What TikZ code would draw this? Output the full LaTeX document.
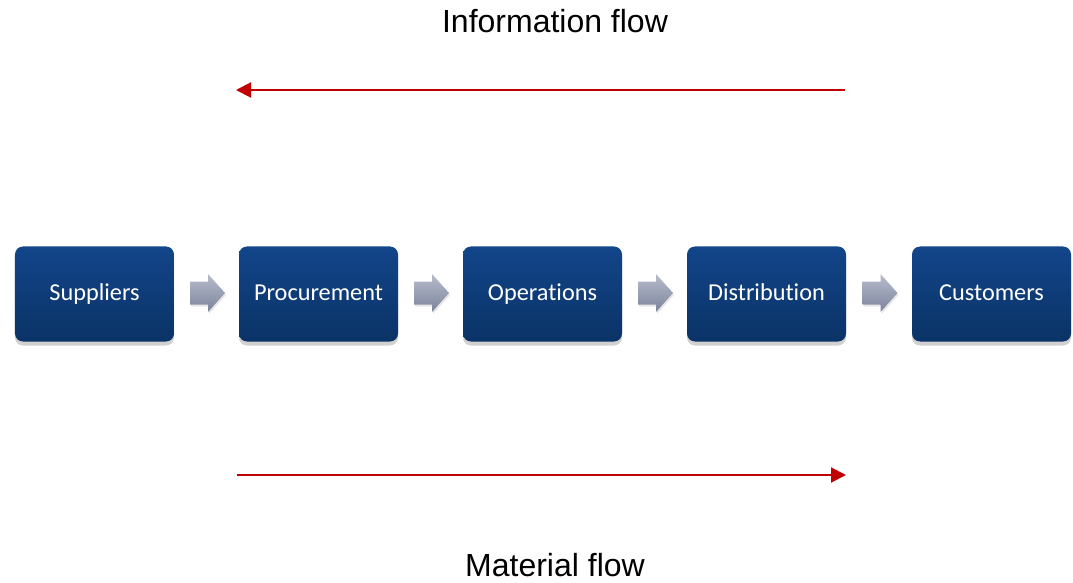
\documentclass[tikz,border=0pt]{standalone}
\usepackage{fontspec}
\setmainfont{Liberation Sans}
\newfontfamily\boxfont[Ligatures=NoCommon]{Carlito}
\usetikzlibrary{arrows.meta,shadows,calc}
\definecolor{boxtop}{HTML}{13458A}
\definecolor{boxbot}{HTML}{0A3366}
\definecolor{chevtop}{HTML}{B8BDCC}
\definecolor{chevbot}{HTML}{7C849C}
\definecolor{flowred}{HTML}{C00000}
\tikzset{
  stage/.style={rectangle, rounded corners=8bp, minimum width=159bp, minimum height=95bp,
    top color=boxtop, bottom color=boxbot, draw=none, text=white,
    text height=18bp, text depth=4bp,
    font=\boxfont\fontsize{24.3bp}{28bp}\selectfont,
    drop shadow={shadow xshift=0bp, shadow yshift=-4bp, opacity=0.3, fill=black!60}},
  chevfill/.style={top color=chevtop, bottom color=chevbot, draw=none,
    drop shadow={shadow xshift=1bp, shadow yshift=-2bp, opacity=0.2, fill=black!50}},
  chevron/.pic={
    \path[chevfill] (-17.5,-11.5) -- (0.5,-11.5) -- (0.5,-19) -- (17.5,0)
      -- (0.5,19) -- (0.5,11.5) -- (-17.5,11.5) -- cycle;
  },
  flow/.style={draw=flowred, line width=2bp, -{Triangle[length=15bp, width=15bp]}},
  caption/.style={font=\fontsize{32bp}{38bp}\selectfont, text=black, inner sep=0pt, anchor=base}
}
\begin{document}
\begin{tikzpicture}[x=1bp, y=-1bp]
  \useasboundingbox (0,0) rectangle (1073,583);
  % process stages
  \node[stage] (sup) at (94.5,294) {Suppliers};
  \node[stage] (pro) at (318.5,294) {Procurement};
  \node[stage] (ops) at (542.5,294) {Operations};
  \node[stage] (dis) at (766.5,294) {Distribution};
  \node[stage] (cus) at (991.5,294) {Customers};
  % chevrons between consecutive stages
  \foreach \a/\b in {sup/pro, pro/ops, ops/dis, dis/cus}
    \pic at ($(\a.east)!0.5!(\b.west)+(1,-1)$) {chevron};
  % flow arrows
  \coordinate (infoR) at (845,90);
  \coordinate (infoL) at (236,90);
  \coordinate (matL) at (237,475);
  \coordinate (matR) at (846,475);
  \draw[flow] (infoR) -- (infoL);
  \draw[flow] (matL) -- (matR);
  % captions
  \node[caption] (info) at (555,33) {Information flow};
  \node[caption] (mat) at (555,576) {Material flow};
\end{tikzpicture}
\end{document}
